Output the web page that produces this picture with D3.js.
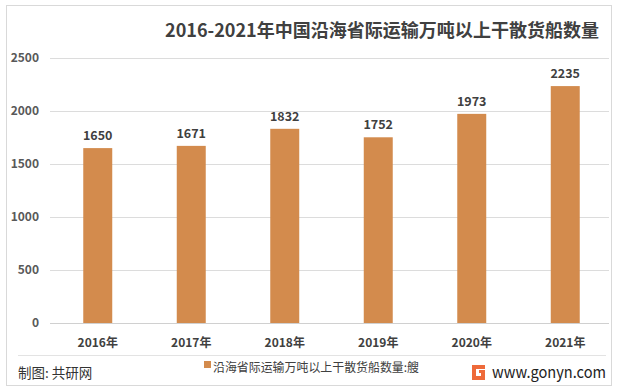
<!DOCTYPE html>
<html>
<head>
<meta charset="utf-8">
<script src="https://cdn.jsdelivr.net/npm/d3@7"></script>
<style>
  html, body { margin: 0; padding: 0; background: #fff; }
  svg { display: block; }
  text { font-family: "Noto Sans CJK SC", "Noto Sans", sans-serif; }
</style>
</head>
<body>
<svg id="chart" width="618" height="390"></svg>
<script>
const title = "2016-2021年中国沿海省际运输万吨以上干散货船数量";
const categories = ["2016年", "2017年", "2018年", "2019年", "2020年", "2021年"];
const values = [1650, 1671, 1832, 1752, 1973, 2235];
const yTicks = [0, 500, 1000, 1500, 2000, 2500];
const seriesName = "沿海省际运输万吨以上干散货船数量:艘";
const sourceText = "制图: 共研网";
const siteText = "www.gonyn.com";

const svg = d3.select("#chart");
const barColor = "#D38B4D";

// outer border
svg.append("rect").attr("x", 6.5).attr("y", 5.5).attr("width", 605).attr("height", 380)
  .attr("fill", "#fff").attr("stroke", "#d9d9d9").attr("stroke-width", 1);

const x = d3.scaleBand().domain(categories).range([51, 612]).paddingInner(0.69).paddingOuter(0.345);
const y = d3.scaleLinear().domain([0, 2500]).range([323, 58]);

// gridlines
svg.append("g").selectAll("line").data(yTicks).join("line")
  .attr("x1", 50).attr("x2", 609)
  .attr("y1", d => Math.round(y(d)) + 0.5).attr("y2", d => Math.round(y(d)) + 0.5)
  .attr("stroke", d => d === 0 ? "#d0d0d0" : "#dcdcdc").attr("stroke-width", 1);

// y axis labels
const yAxis = d3.axisLeft(y).tickValues(yTicks).tickFormat(d3.format("d")).tickSize(0).tickPadding(0);
const yg = svg.append("g").attr("transform", "translate(39,0)").call(yAxis);
yg.select(".domain").remove();
yg.selectAll("text").attr("font-size", 12).attr("font-weight", "bold").attr("fill", "#595959")
  .attr("font-family", "'Noto Sans', sans-serif");

// bars
svg.append("g").selectAll("rect").data(values).join("rect")
  .attr("x", (d, i) => x(categories[i]))
  .attr("width", x.bandwidth())
  .attr("y", d => y(d))
  .attr("height", d => y(0) - y(d))
  .attr("fill", barColor);

// value labels
svg.append("g").selectAll("text").data(values).join("text")
  .attr("x", (d, i) => x(categories[i]) + x.bandwidth() / 2)
  .attr("y", d => y(d) - 8)
  .attr("text-anchor", "middle")
  .attr("font-size", 12.5).attr("font-weight", "bold").attr("fill", "#404040")
  .attr("font-family", "'Noto Sans', sans-serif")
  .text(d => d);

// x axis labels
const xAxis = d3.axisBottom(x).tickSize(0).tickPadding(0);
const xg = svg.append("g").attr("transform", "translate(0,347)").call(xAxis);
xg.select(".domain").remove();
xg.selectAll("text").attr("font-size", 12).attr("font-weight", "bold").attr("fill", "#404040")
  .attr("dy", 0);

// separator
svg.append("line").attr("x1", 18).attr("x2", 606).attr("y1", 355.5).attr("y2", 355.5)
  .attr("stroke", "#e3e3e3");

// title
svg.append("text").attr("x", 599).attr("y", 37).attr("text-anchor", "end")
  .attr("font-size", 18).attr("font-weight", "bold").attr("fill", "#404040")
  .attr("textLength", 434).attr("lengthAdjust", "spacingAndGlyphs")
  .text(title);

// legend
svg.append("rect").attr("x", 204).attr("y", 361).attr("width", 7).attr("height", 7).attr("fill", barColor);
svg.append("text").attr("x", 213).attr("y", 372).attr("font-size", 12.5).attr("fill", "#404040")
  .attr("textLength", 206).attr("lengthAdjust", "spacingAndGlyphs")
  .text(seriesName);

// source
svg.append("text").attr("x", 18).attr("y", 378).attr("font-size", 13.5).attr("fill", "#333")
  .text(sourceText);

// logo
const lg = svg.append("g").attr("transform", "translate(472,365)");
lg.append("path").attr("d", "M0,0 H13 V4 H4 V11 H9 V8 H7 V5 H13 V15 H0 Z").attr("fill", "#ee6a3a");
svg.append("text").attr("x", 492).attr("y", 378).attr("font-size", 16).attr("fill", "#222")
  .attr("font-family", "'Liberation Sans', Arial, sans-serif")
  .attr("textLength", 114).attr("lengthAdjust", "spacingAndGlyphs")
  .text(siteText);
</script>
</body>
</html>
